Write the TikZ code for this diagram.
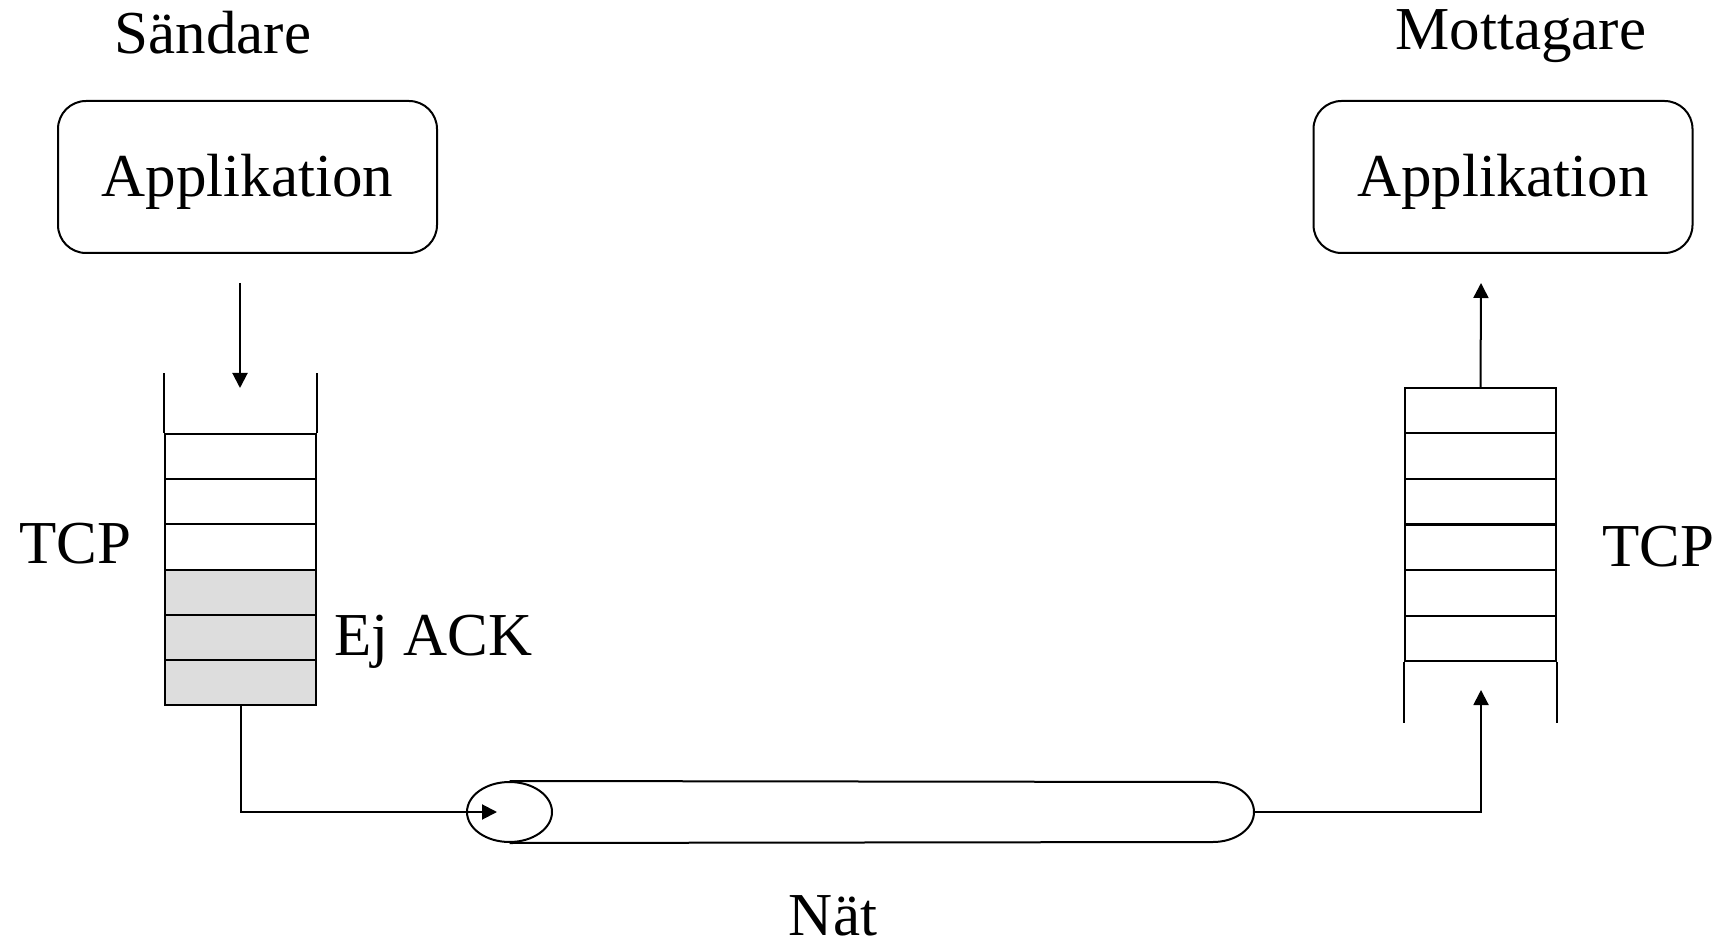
\documentclass[tikz,border=0pt]{standalone}
\usepackage{fontspec}
\setmainfont{Liberation Serif}
\usetikzlibrary{arrows.meta,shapes.geometric}
\definecolor{ackgray}{RGB}{221,221,221}
\begin{document}
\begin{tikzpicture}[x=0.5pt,y=-0.5pt,
  every path/.style={line width=1pt},
  lbl/.style={font=\fontsize{30.5}{36}\selectfont, inner sep=0pt, anchor=base},
  appbox/.style={draw, rounded corners=14pt, minimum width=189.5pt, minimum height=76pt,
    inner sep=0pt, text height=22.5pt, text depth=2.5pt, font=\fontsize{30.5}{36}\selectfont},
  lcell/.style={draw, minimum width=75.5pt, minimum height=22.58pt, inner sep=0pt},
  rcell/.style={draw, minimum width=75.5pt, minimum height=22.75pt, inner sep=0pt},
  arr/.style={-{Triangle[length=7.5pt,width=7.5pt]}}
]
\useasboundingbox[fill=white] (0,0) rectangle (1728,951);

% titles
\node[lbl] (sender) at (213,54) {Sändare};
\node[lbl] (receiver) at (1521,50) {Mottagare};

% application boxes
\node[appbox] (appL) at (247.5,177) {Applikation};
\node[appbox] (appR) at (1503,177) {Applikation};

% sender stack
\foreach \i in {1,2,3}
  \node[lcell] (L\i) at (240.5,{434+45.17*(\i-0.5)}) {};
\foreach \i in {4,5,6}
  \node[lcell, fill=ackgray] (L\i) at (240.5,{434+45.17*(\i-0.5)}) {};
\draw (L1.north west) -- ++(0,-60);
\draw (L1.north east) -- ++(0,-60);

% receiver stack
\foreach \i in {1,...,6}
  \node[rcell] (R\i) at (1480.5,{388+45.5*(\i-0.5)}) {};
\draw (R6.south west) -- ++(0,61);
\draw (R6.south east) -- ++(0,61);

% labels
\node[lbl] (tcpL) at (75,563) {TCP};
\node[lbl] (tcpR) at (1658,567) {TCP};
\node[lbl, anchor=base west] (ejack) at (333,655) {Ej ACK};
\node[lbl, text depth=0pt] (nat) at (833,935) {Nät};

% network pipe
\node[ellipse, draw, minimum width=42.5pt, minimum height=30pt, inner sep=0pt] (pipeL) at (509.5,812) {};
\coordinate (pipeTR) at (1213,782);
\draw (pipeL.north) -- (pipeTR) arc[start angle=90, end angle=-90, x radius=20.5pt, y radius=15pt] -- (pipeL.south);

% connectors
\coordinate (inS) at (240,283);
\coordinate (inE) at (240,388);
\draw[arr] (inS) -- (inE);
\coordinate (pipeIn) at (497,812);
\draw[arr] (L6.south) |- (pipeIn);
\coordinate (pipeR) at (1254,812);
\coordinate (rIn) at (1481,690);
\draw[arr] (pipeR) -| (rIn);
\coordinate (rOut) at (1481,283);
\draw[arr] (R1.north) -- (rOut);
\end{tikzpicture}
\end{document}
